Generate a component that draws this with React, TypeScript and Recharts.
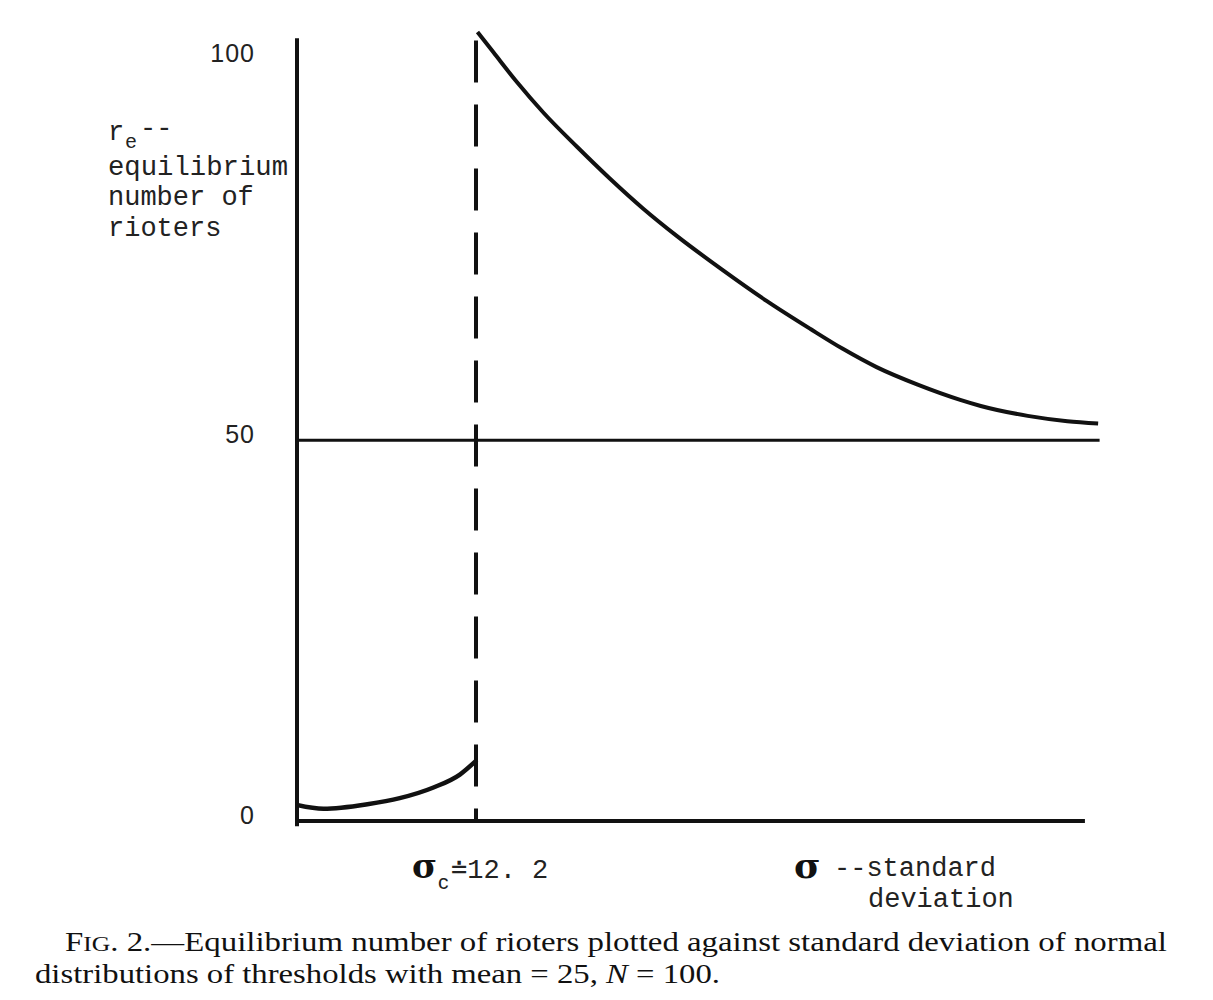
import React from "react";
import { LineChart, Line, XAxis, YAxis, ReferenceLine } from "recharts";

// sigma (standard deviation) vs equilibrium number of rioters
const sigmaLow = [0, 1.8, 4.8, 7.0, 9.3, 11.1, 12.25];
const rioLow = [2.1, 1.6, 2.2, 3.0, 4.4, 6.1, 8.0];

const sigmaHigh = [
  12.3, 13.4, 15.0, 16.8, 19.1, 21.3, 23.6, 25.9, 28.9, 32.0, 35.0, 37.2, 39.5, 42.3,
  45.2, 46.6, 49.8, 52.5, 54.6,
];
const rioHigh = [
  103.6, 100.9, 97.0, 93.0, 88.5, 84.4, 80.4, 76.8, 72.5, 68.3, 64.6, 62.0, 59.6, 57.3,
  55.3, 54.5, 53.2, 52.5, 52.2,
];

const yTicks = [0, 50, 100];
const sigmaCritical = 12.2;
const halfLine = 50;

const lowData = sigmaLow.map((s, i) => ({ s, r: rioLow[i] }));
const highData = sigmaHigh.map((s, i) => ({ s, r: rioHigh[i] }));

const INK = "#111";
const MONO = "'Liberation Mono', 'DejaVu Sans Mono', monospace";

function YTick(props: any) {
  const { y, payload } = props;
  return (
    <text
      x={255}
      y={y + 3}
      textAnchor="end"
      fontFamily="'Liberation Sans', Arial, sans-serif"
      fontSize={25}
      letterSpacing={1}
      fill="#222"
    >
      {payload.value}
    </text>
  );
}

export default function App() {
  return (
    <div
      style={{
        position: "absolute",
        left: 0,
        top: 0,
        width: 1213,
        height: 1000,
        background: "#fff",
      }}
    >
      <LineChart
        width={1213}
        height={1000}
        margin={{ top: 29, right: 109, bottom: 179, left: 237 }}
      >
        <XAxis dataKey="s" type="number" domain={[0, 55]} hide allowDataOverflow />
        <YAxis
          type="number"
          domain={[0, 104]}
          ticks={yTicks}
          width={60}
          axisLine={false}
          tickLine={false}
          tick={<YTick />}
          allowDataOverflow
        />
        {/* axes */}
        <ReferenceLine
          segment={[
            { x: 0, y: 102.8 },
            { x: 0, y: -0.7 },
          ]}
          stroke={INK}
          strokeWidth={4}
          ifOverflow="visible"
        />
        <ReferenceLine
          segment={[
            { x: 0, y: 0 },
            { x: 53.7, y: 0 },
          ]}
          stroke={INK}
          strokeWidth={4}
          ifOverflow="visible"
        />
        <ReferenceLine
          segment={[
            { x: 0, y: halfLine },
            { x: 54.7, y: halfLine },
          ]}
          stroke={INK}
          strokeWidth={3}
          ifOverflow="visible"
        />
        <ReferenceLine
          segment={[
            { x: sigmaCritical, y: 102.5 },
            { x: sigmaCritical, y: 0 },
          ]}
          stroke={INK}
          strokeWidth={4}
          strokeDasharray="42 22"
          ifOverflow="visible"
        />
        <Line
          data={lowData}
          dataKey="r"
          type="monotone"
          stroke={INK}
          strokeWidth={4.5}
          dot={false}
          isAnimationActive={false}
        />
        <Line
          data={highData}
          dataKey="r"
          type="monotone"
          stroke={INK}
          strokeWidth={4}
          dot={false}
          isAnimationActive={false}
        />
      </LineChart>

      <svg
        width={1213}
        height={1000}
        style={{ position: "absolute", left: 0, top: 0, pointerEvents: "none" }}
      >
        {/* y axis label */}
        <g fontFamily={MONO} fontSize={27} fill="#222">
          <text x={108} y={140}>r</text>
          <text x={140} y={136}>--</text>
          <text x={125} y={148} fontSize={20}>e</text>
          <text x={108} y={175} textLength={180} lengthAdjust="spacingAndGlyphs">
            equilibrium
          </text>
          <text x={108} y={205}>number of</text>
          <text x={108} y={236}>rioters</text>
        </g>

        {/* x axis labels */}
        <text x={412} y={878} fontFamily="'DejaVu Serif', serif" fontWeight="bold" fontSize={34} fill="#111">
          σ
        </text>
        <text x={438} y={889} fontFamily="'Liberation Sans', sans-serif" fontSize={21} fill="#222">
          c
        </text>
        <text x={451} y={878} fontFamily={MONO} fontSize={27} fill="#222">
          ≐12. 2
        </text>

        <text x={794} y={878} fontFamily="'DejaVu Serif', serif" fontWeight="bold" fontSize={36} fill="#111">
          σ
        </text>
        <text x={834} y={876} fontFamily={MONO} fontSize={27} fill="#222">
          --standard
        </text>
        <text x={868} y={907} fontFamily={MONO} fontSize={27} fill="#222">
          deviation
        </text>

        {/* caption */}
        <g fontFamily="'Liberation Serif', 'DejaVu Serif', serif" fill="#111">
          <text x={65} y={951} fontSize={27} textLength={1102} lengthAdjust="spacingAndGlyphs">
            F<tspan fontSize={21}>IG</tspan>. 2.—Equilibrium number of rioters plotted against standard deviation of normal
          </text>
          <text x={35} y={983} fontSize={27} textLength={685} lengthAdjust="spacingAndGlyphs">
            distributions of thresholds with mean = 25, <tspan fontStyle="italic">N</tspan> = 100.
          </text>
        </g>
      </svg>
    </div>
  );
}
